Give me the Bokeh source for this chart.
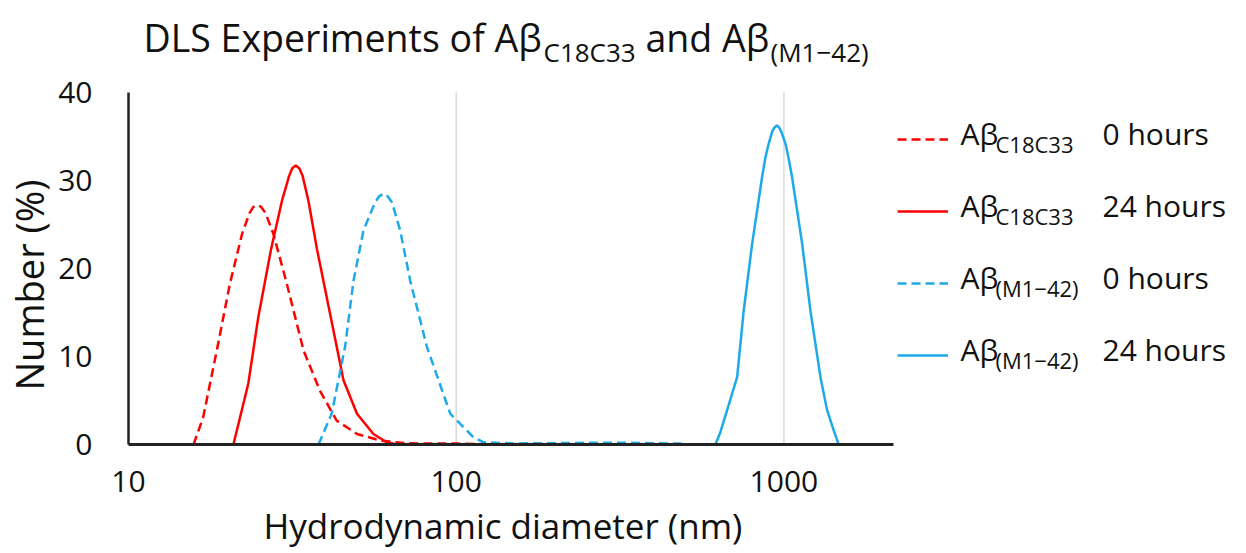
import math
from bokeh.plotting import figure
from bokeh.models import Range1d, Label, Legend, LegendItem, FixedTicker, CustomJSTickFormatter, Title
from bokeh.embed import file_html
from bokeh.resources import INLINE

# ---------------- data ----------------
c18_0h_d = [15.8, 16.9, 18.6, 20.4, 22.2, 23.4, 24.05, 24.7, 25.4, 26.2, 27.7, 30.4, 34.2, 38.4, 43.2, 49.8, 58.6, 70, 85, 100, 120, 140]
c18_0h_v = [0, 3.1, 10.7, 18.3, 23.9, 26.3, 27.0, 27.2, 27.0, 26.3, 23.9, 18.3, 10.7, 6.1, 2.7, 1.2, 0.45, 0.15, 0.1, 0.1, 0.05, 0]

c18_24h_d = [20.9, 23.2, 24.9, 27.2, 29.4, 30.9, 31.6, 32.4, 33.2, 34.0, 35.4, 37.6, 41.2, 45.3, 49.8, 55.9, 61.4, 66]
c18_24h_v = [0, 6.9, 14.5, 22.1, 27.7, 30.5, 31.4, 31.7, 31.4, 30.5, 27.7, 22.2, 14.9, 7.3, 3.5, 1.2, 0.26, 0]

m42_0h_d = [38.0, 41.7, 45.8, 48.6, 52.1, 56.5, 58.2, 60.0, 61.8, 63.7, 67.5, 72.4, 81.4, 95.9, 112.9, 121, 150, 200, 260, 330, 400, 480, 520]
m42_0h_v = [0, 3.5, 11.1, 18.6, 24.3, 27.5, 28.2, 28.5, 28.2, 27.5, 24.3, 18.6, 11.1, 3.5, 0.83, 0.26, 0.12, 0.15, 0.2, 0.2, 0.15, 0.1, 0]

m42_24h_d = [618, 640, 671, 720, 754, 800, 858, 878, 899, 922, 937, 953, 968, 983, 1011, 1034, 1059, 1137, 1205, 1293, 1355, 1419, 1470]
m42_24h_v = [0, 1.4, 3.9, 7.65, 15.2, 22.8, 30.4, 32.6, 34.2, 35.6, 36.05, 36.25, 36.0, 35.5, 34.2, 32.5, 30.4, 22.8, 15.2, 7.65, 3.9, 1.6, 0]

x_ticks = [10, 100, 1000]
x_grid = [100, 1000]
y_ticks = [0, 10, 20, 30, 40]
x_lim = (10, 2160)
y_lim = (0, 40)

title_main = ["DLS Experiments of A\u03b2", "and A\u03b2"]
title_subs = ["C18C33", "(M1\u221242)"]
legend_subs = ["C18C33", "C18C33", "(M1\u221242)", "(M1\u221242)"]
legend_hours = ["0 hours", "24 hours", "0 hours", "24 hours"]

RED = "#FF0000"
BLUE = "#1EA9EA"
FONT = "Open Sans"
INK = "#111111"

# ---------------- layout constants (page pixels) ----------------
W, H = 1246, 553
FL, FB = 128, 444          # left / bottom edge of the plotting frame
AX_R, AX_T = 893, 92       # right end of x axis, top of y axis

# frame is extended to the top and right edges of the page so the title and the
# legend (annotations) can live inside it; the axes are bounded to the data limits
dec_px = (AX_R - FL) / (math.log10(x_lim[1]) - math.log10(x_lim[0]))
x_end = 10 ** (math.log10(x_lim[0]) + (W - FL) / dec_px)
y_end = y_lim[0] + (y_lim[1] - y_lim[0]) * FB / (FB - AX_T)


def sx(px):
    return px - FL


def sy(py):
    return FB - py


p = figure(width=W, height=H, x_axis_type="log",
           x_range=Range1d(x_lim[0], x_end), y_range=Range1d(y_lim[0], y_end),
           output_backend="svg", toolbar_location=None, title_location=None,
           min_border_left=FL, min_border_right=0,
           min_border_top=0, min_border_bottom=H - FB)
p.outline_line_color = None
p.background_fill_color = "white"
p.border_fill_color = "white"
p.xgrid.visible = False
p.ygrid.visible = False

# vertical gridlines at the decades, limited to the data range
p.segment(x0=x_grid, y0=[y_lim[0]] * len(x_grid), x1=x_grid, y1=[y_lim[1]] * len(x_grid),
          line_color="#D9D9D9", line_width=1.5)

# axes
p.xaxis.ticker = FixedTicker(ticks=x_ticks, minor_ticks=[])
p.xaxis.formatter = CustomJSTickFormatter(code="return String(Math.round(tick))")
p.yaxis.ticker = FixedTicker(ticks=y_ticks, minor_ticks=[])
p.xaxis.bounds = x_lim
p.yaxis.bounds = y_lim
for ax in (p.xaxis, p.yaxis):
    ax.major_tick_in = 0
    ax.major_tick_out = 0
    ax.minor_tick_in = 0
    ax.minor_tick_out = 0
    ax.major_label_text_font = FONT
    ax.major_label_text_font_size = "30px"
    ax.major_label_text_color = INK
p.xaxis.axis_line_width = 3
p.xaxis.axis_line_color = "#222222"
p.yaxis.axis_line_width = 2.5
p.yaxis.axis_line_color = "#222222"
p.xaxis.major_label_standoff = 26
p.yaxis.major_label_standoff = 36

# axis titles as side-panel titles so they can be placed along the bounded axes
p.add_layout(Title(text="Hydrodynamic diameter (nm)", align="left", offset=263 - FL,
                   vertical_align="bottom", standoff=10, text_font=FONT, text_font_size="35px",
                   text_font_style="normal", text_color=INK), "below")
p.add_layout(Title(text="Number (%)", align="left", offset=FB - 390,
                   vertical_align="middle", standoff=0, text_font=FONT, text_font_size="38px",
                   text_font_style="normal", text_color=INK), "left")

# curves
r1 = p.line(c18_0h_d, c18_0h_v, line_color=RED, line_width=2.5, line_dash="9 5")
r2 = p.line(c18_24h_d, c18_24h_v, line_color=RED, line_width=2.5)
r3 = p.line(m42_0h_d, m42_0h_v, line_color=BLUE, line_width=2.5, line_dash="9 5")
r4 = p.line(m42_24h_d, m42_24h_v, line_color=BLUE, line_width=2.5)

# legend keys (texts drawn separately so the subscripts can be shown)
rows = [139, 211, 283, 355]       # page y of each legend row
legend = Legend(items=[LegendItem(label=" ", renderers=[r]) for r in (r1, r2, r3, r4)],
                location=(sx(897), sy(rows[-1] + 10)),
                glyph_width=51, glyph_height=20, label_width=0, label_height=20,
                label_text_font_size="2px", label_standoff=0,
                spacing=52, padding=0, margin=0,
                border_line_color=None, background_fill_alpha=0)
p.add_layout(legend, "center")


def txt(text, px, baseline, size):
    # Label places the given y about 0.39 em above the alphabetic baseline
    p.add_layout(Label(x=sx(px), y=sy(baseline - 0.39 * size), x_units="screen", y_units="screen",
                       text=text, text_font=FONT, text_font_size=f"{size}px", text_color=INK,
                       text_baseline="alphabetic", text_align="left"))


# title with subscripts
txt(title_main[0], 143, 52, 37.5)
txt(title_subs[0], 543, 62, 26)
txt(title_main[1], 645, 52, 37.5)
txt(title_subs[1], 770, 62, 26)

# legend texts
for ry, s, h in zip(rows, legend_subs, legend_hours):
    txt("A\u03b2", 960, ry + 6, 30)
    txt(s, 995, ry + 13, 22)
    txt(h, 1102, ry + 6, 30)

open("out.html", "w").write(file_html(p, INLINE))
